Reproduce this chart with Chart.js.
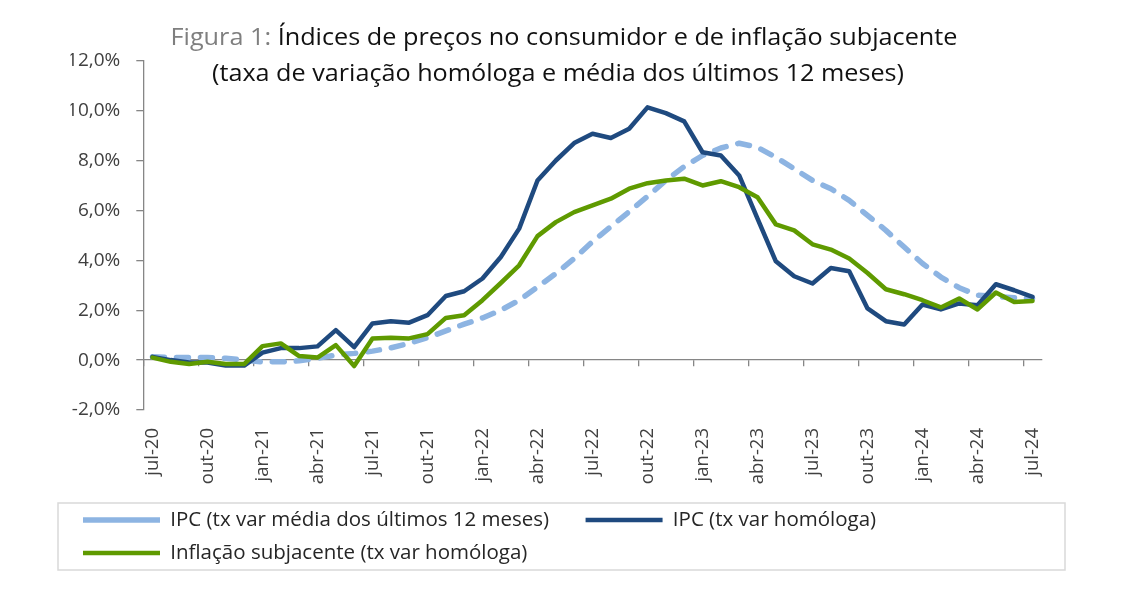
<!DOCTYPE html>
<html lang="pt">
<head>
<meta charset="utf-8">
<script src="https://cdn.jsdelivr.net/npm/chart.js@4.4.1/dist/chart.umd.min.js"></script>
<style>
  html, body { margin: 0; padding: 0; background: #fff; }
  #wrap { width: 1128px; height: 591px; position: relative; }
</style>
</head>
<body>
<div id="wrap"><canvas id="grafico"></canvas></div>
<script>
(() => {
  // meses de jul-20 a jul-24
  const meses = [
    "jul-20", "ago-20", "set-20", "out-20", "nov-20", "dez-20",
    "jan-21", "fev-21", "mar-21", "abr-21", "mai-21", "jun-21",
    "jul-21", "ago-21", "set-21", "out-21", "nov-21", "dez-21",
    "jan-22", "fev-22", "mar-22", "abr-22", "mai-22", "jun-22",
    "jul-22", "ago-22", "set-22", "out-22", "nov-22", "dez-22",
    "jan-23", "fev-23", "mar-23", "abr-23", "mai-23", "jun-23",
    "jul-23", "ago-23", "set-23", "out-23", "nov-23", "dez-23",
    "jan-24", "fev-24", "mar-24", "abr-24", "mai-24", "jun-24",
    "jul-24"
  ];

  const ipcMedia12 = [
    0.13, 0.1, 0.1, 0.1, 0.07, 0.0,
    -0.07, -0.07, -0.03, 0.07, 0.2, 0.27,
    0.36, 0.49, 0.67, 0.9, 1.17, 1.44,
    1.69, 2.0, 2.4, 2.93, 3.47, 4.07,
    4.75, 5.35, 5.95, 6.56, 7.2, 7.76,
    8.2, 8.5, 8.69, 8.53, 8.13, 7.67,
    7.2, 6.87, 6.4, 5.8, 5.2, 4.53,
    3.87, 3.33, 2.9, 2.6, 2.55, 2.5,
    2.47
  ];

  const ipcHomologa = [
    0.13, 0.0, -0.1, -0.1, -0.22, -0.22,
    0.3, 0.48, 0.48, 0.55, 1.2, 0.52,
    1.47, 1.56, 1.5, 1.8, 2.57, 2.76,
    3.27, 4.13, 5.27, 7.2, 8.0, 8.7,
    9.07, 8.9, 9.27, 10.13, 9.9, 9.57,
    8.33, 8.2, 7.4, 5.67, 3.96, 3.36,
    3.07, 3.69, 3.56, 2.07, 1.56, 1.43,
    2.23, 2.03, 2.27, 2.2, 3.04, 2.8,
    2.53
  ];

  const inflacaoSubjacente = [
    0.1, -0.07, -0.16, -0.07, -0.16, -0.16,
    0.56, 0.67, 0.16, 0.1, 0.6, -0.24,
    0.87, 0.9, 0.87, 1.04, 1.69, 1.8,
    2.4, 3.09, 3.8, 4.97, 5.53, 5.93,
    6.2, 6.47, 6.87, 7.09, 7.2, 7.27,
    7.0, 7.17, 6.93, 6.53, 5.44, 5.2,
    4.64, 4.43, 4.07, 3.49, 2.84, 2.64,
    2.4, 2.11, 2.47, 2.03, 2.71, 2.33,
    2.37
  ];

  const nomesSeries = [
    "IPC (tx var média dos últimos 12 meses)",
    "IPC (tx var homóloga)",
    "Inflação subjacente (tx var homóloga)"
  ];

  const tituloLinha1a = "Figura 1: ";
  const tituloLinha1b = "Índices de preços no consumidor e de inflação subjacente";
  const tituloLinha2 = "(taxa de variação homóloga e média dos últimos 12 meses)";

  const cinzaEixo = "#868686";
  const corTexto = "#404040";
  const fonte = "'Open Sans'";

  // legenda: tamanho de letra e espaçamento
  const legTam = 20.5;
  const legPad = 12.5;
  const legTopo = 520 - legPad - legTam / 2;   // topo da caixa da legenda do Chart.js
  const legAltura = 2 * (legTam + legPad) + 10;
  const legEsq = 83 - legPad;

  // titulo em duas cores
  const tituloPlugin = {
    id: "titulo",
    afterDraw(chart) {
      const ctx = chart.ctx;
      const cx = chart.width / 2;
      ctx.save();
      ctx.font = "24px " + fonte;
      ctx.textBaseline = "middle";
      ctx.textAlign = "left";
      const w1a = ctx.measureText(tituloLinha1a).width;
      const w1b = ctx.measureText(tituloLinha1b).width;
      const w1 = w1a + w1b;
      const sx1 = 787 / w1;

      ctx.save();
      ctx.translate(cx, 38);
      ctx.scale(sx1, 1);
      ctx.fillStyle = "#7f7f7f";
      ctx.fillText(tituloLinha1a, -w1 / 2, 0);
      ctx.fillStyle = "#111";
      ctx.fillText(tituloLinha1b, -w1 / 2 + w1a, 0);
      ctx.restore();

      const w2 = ctx.measureText(tituloLinha2).width;
      const sx2 = 692 / w2;
      ctx.save();
      ctx.translate(558, 74);
      ctx.scale(sx2, 1);
      ctx.fillStyle = "#111";
      ctx.fillText(tituloLinha2, -w2 / 2, 0);
      ctx.restore();
      ctx.restore();
    }
  };

  // moldura da legenda
  const molduraLegenda = {
    id: "molduraLegenda",
    afterDraw(chart) {
      const l = chart.legend;
      if (!l) return;
      const ctx = chart.ctx;
      ctx.save();
      ctx.strokeStyle = "#d9d9d9";
      ctx.lineWidth = 1.5;
      ctx.strokeRect(58, 503, 1065 - 58, 67);
      ctx.restore();
    }
  };

  const ctx = document.getElementById("grafico").getContext("2d");

  new Chart(ctx, {
    type: "line",
    data: {
      labels: meses,
      datasets: [
        {
          label: nomesSeries[0],
          data: ipcMedia12,
          borderColor: "#8db4e2",
          backgroundColor: "#8db4e2",
          borderWidth: 5.5,
          borderDash: [12, 12],
          borderCapStyle: "round",
          order: 3
        },
        {
          label: nomesSeries[1],
          data: ipcHomologa,
          borderColor: "#1f4a7f",
          backgroundColor: "#1f4a7f",
          borderWidth: 4.5,
          borderCapStyle: "round",
          order: 2
        },
        {
          label: nomesSeries[2],
          data: inflacaoSubjacente,
          borderColor: "#5f9a00",
          backgroundColor: "#5f9a00",
          borderWidth: 4.5,
          borderCapStyle: "round",
          order: 1
        }
      ]
    },
    options: {
      responsive: true,
      maintainAspectRatio: false,
      animation: false,
      elements: {
        point: { radius: 0, hoverRadius: 0 },
        line: { tension: 0, borderJoinStyle: "round" }
      },
      layout: {
        padding: { top: 60.7, left: legEsq, right: 63, bottom: 591 - legTopo - legAltura }
      },
      scales: {
        x: {
          type: "category",
          offset: true,
          grid: { display: false, drawTicks: false },
          border: { display: false },
          ticks: {
            autoSkip: false,
            minRotation: 90,
            maxRotation: 90,
            padding: 18,
            color: corTexto,
            font: { family: fonte, size: 18.5 },
            callback: (v, i) => (i % 3 === 0 ? meses[i] : "")
          },
          afterFit: (s) => { s.height = legTopo - 410; }
        },
        xZero: {
          type: "category",
          axis: "x",
          position: { y: 0 },
          offset: true,
          ticks: { display: false },
          grid: {
            offset: true,
            drawOnChartArea: false,
            tickLength: 6,
            lineWidth: 1.3,
            color: (c) => (c.index % 3 === 0 ? cinzaEixo : "rgba(0,0,0,0)")
          },
          border: { color: cinzaEixo, width: 1.3 },
          afterFit: (s) => { s.height = 0; }
        },
        y: {
          min: -2,
          max: 12,
          ticks: {
            stepSize: 2,
            padding: 16,
            color: corTexto,
            font: { family: fonte, size: 19 },
            callback: (v) => v.toFixed(1).replace(".", ",") + "%"
          },
          grid: { drawOnChartArea: false, tickLength: 7, color: cinzaEixo, lineWidth: 1.3 },
          border: { color: cinzaEixo, width: 1.3 },
          afterFit: (s) => { s.width = 143.3 - legEsq; }
        },
        yDireita: {
          type: "linear",
          position: "right",
          grid: { display: false, drawTicks: false },
          border: { display: false },
          ticks: { display: false },
          afterFit: (s) => { s.width = 23.3; }
        }
      },
      plugins: {
        title: { display: false },
        tooltip: { enabled: false },
        legend: {
          position: "bottom",
          align: "start",
          labels: {
            usePointStyle: true,
            pointStyle: "line",
            pointStyleWidth: 77,
            padding: legPad,
            color: "#262626",
            font: { family: fonte, size: legTam },
            sort: (a, b) => a.datasetIndex - b.datasetIndex,
            generateLabels: (chart) => {
              const itens = Chart.defaults.plugins.legend.labels.generateLabels(chart);
              // afasta o segundo item como no original
              itens.forEach((it) => { if (it.datasetIndex === 0) it.text += "\u2003\u2009"; });
              return itens;
            }
          }
        }
      }
    },
    plugins: [tituloPlugin, molduraLegenda]
  });
})();
</script>
</body>
</html>
